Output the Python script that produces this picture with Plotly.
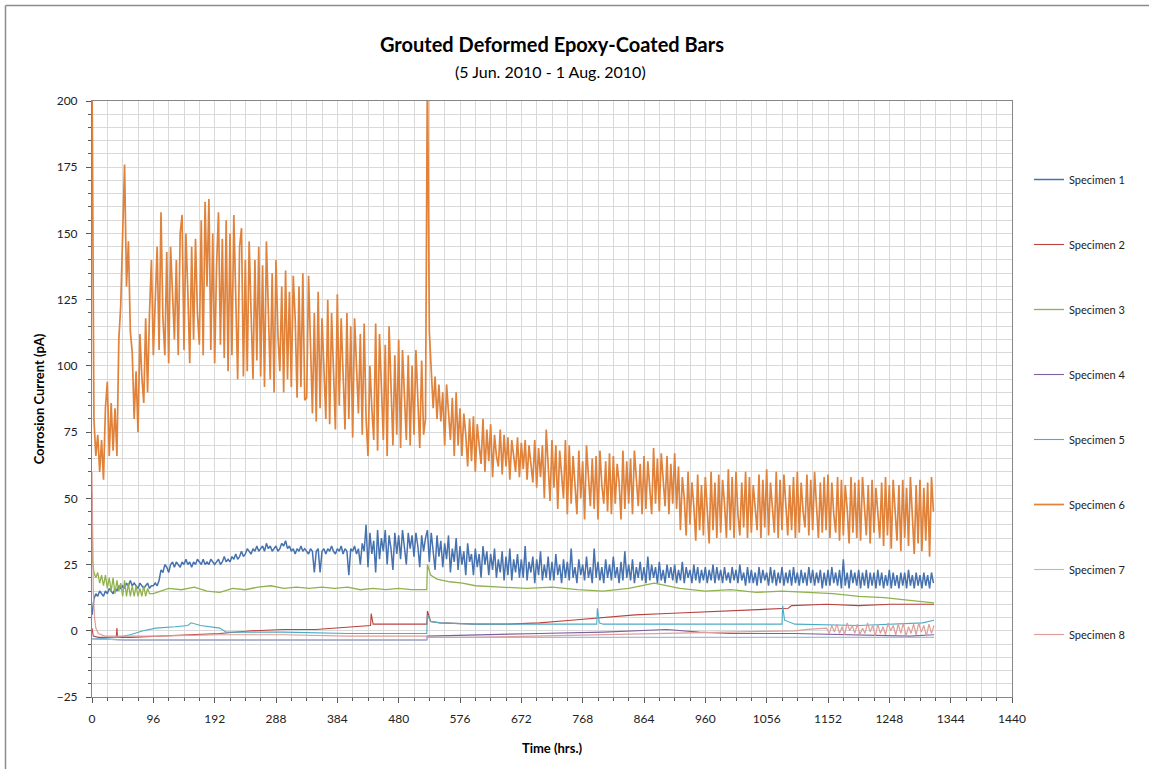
import plotly.graph_objects as go

# ---------------- data ----------------
NAMES = ["Specimen 1", "Specimen 2", "Specimen 3", "Specimen 4",
         "Specimen 5", "Specimen 6", "Specimen 7", "Specimen 8"]

# Specimen 6 (orange) - readings every 3 hours, 0 .. 1317 h (one row = 24 h)
S6_STEP = 3
S6 = [
    215, 80, 66, 74, 60, 72, 57, 84,
    94, 66, 86, 68, 84, 66, 110, 123,
    150, 176, 130, 147, 113, 105, 80, 98,
    75, 112, 96, 86, 118, 90, 120, 140,
    104, 125, 145, 106, 158, 118, 104, 143,
    101, 145, 126, 110, 140, 104, 150, 157,
    106, 150, 128, 101, 145, 110, 148, 120,
    108, 155, 104, 162, 130, 163, 106, 150,
    101, 138, 158, 108, 148, 103, 155, 98,
    150, 104, 157, 125, 95, 145, 152, 96,
    140, 98, 147, 120, 95, 140, 102, 145,
    96, 138, 92, 147, 118, 95, 135, 90,
    140, 112, 98, 130, 90, 136, 95, 128,
    92, 134, 118, 88, 130, 92, 135, 87,
    88, 134, 108, 82, 120, 79, 128, 84,
    118, 96, 80, 125, 78, 120, 100, 76,
    127, 85, 118, 98, 76, 120, 80, 115,
    73, 118, 96, 82, 112, 74, 116, 80,
    66, 100, 84, 72, 116, 68, 112, 90,
    72, 108, 66, 115, 88, 70, 104, 74,
    110, 69, 106, 90, 72, 104, 70, 100,
    74, 106, 88, 69, 102, 74, 80, 215,
    113, 99, 84, 96, 80, 93, 79, 90,
    70, 93, 82, 72, 88, 66, 90, 70,
    84, 66, 82, 74, 62, 80, 64, 81,
    60, 78, 70, 63, 80, 60, 76, 64,
    78, 58, 74, 66, 62, 76, 59, 74,
    62, 73, 57, 72, 66, 60, 73, 58,
    71, 61, 72, 57, 70, 64, 56, 72,
    54, 69, 58, 70, 50, 76, 62, 49,
    72, 54, 70, 46, 68, 60, 50, 72,
    44, 70, 48, 66, 56, 44, 68, 50,
    64, 42, 70, 58, 47, 65, 46, 66,
    42, 68, 55, 48, 64, 45, 67, 44,
    66, 48, 63, 56, 42, 68, 46, 64,
    48, 65, 44, 68, 57, 47, 63, 44,
    66, 46, 64, 54, 44, 69, 48, 65,
    45, 67, 56, 47, 66, 44, 63, 48,
    67, 46, 62, 38, 58, 50, 36, 60,
    40, 56, 47, 34, 59, 38, 55, 36,
    58, 45, 33, 60, 38, 56, 35, 59,
    37, 57, 48, 35, 61, 38, 58, 35,
    60, 44, 36, 56, 39, 60, 35, 58,
    37, 55, 47, 38, 59, 35, 57, 39,
    61, 36, 56, 46, 37, 60, 35, 57,
    38, 59, 49, 36, 55, 38, 58, 35,
    60, 37, 56, 45, 39, 59, 36, 57,
    38, 60, 47, 35, 56, 37, 58, 38,
    59, 35, 56, 44, 37, 58, 34, 57,
    36, 55, 46, 33, 58, 37, 56, 35,
    57, 34, 58, 45, 36, 55, 33, 57,
    37, 54, 43, 35, 56, 32, 58, 36,
    55, 31, 57, 44, 34, 55, 30, 57,
    35, 54, 32, 58, 42, 29, 55, 33,
    57, 30, 54, 34, 56, 28, 58, 45,
]

# Specimen 1 (blue) - readings every 3 hours, 0 .. 1317 h (one row = 24 h)
S1_STEP = 3
S1 = [
    6, 12, 14, 13, 15, 14, 13, 15,
    14, 16, 15, 14, 16, 15, 17, 16,
    17, 16, 18, 17, 19, 17, 18, 17,
    16, 18, 17, 16, 17, 18, 16, 17,
    17, 18, 17, 19, 23, 22, 25, 24,
    22, 25, 26, 24, 26, 25, 24, 26,
    25, 27, 25, 26, 24, 26, 25, 27,
    26, 25, 27, 25, 26, 25, 27, 26,
    25, 26, 27, 25, 26, 28, 26, 27,
    26, 28, 27, 29, 27, 28, 30, 28,
    29, 31, 30, 29, 31, 30, 32, 30,
    31, 32, 30, 33, 31, 32, 30, 31,
    32, 30, 31, 33, 32, 34, 31, 32,
    30, 31, 29, 31, 30, 32, 30, 31,
    30, 29, 31, 30, 22, 30, 31, 22,
    30, 31, 29, 31, 30, 32, 30, 29,
    31, 30, 32, 29, 31, 30, 21, 31,
    30, 32, 29, 31, 25, 33, 30, 40,
    24, 37, 29, 34, 22, 38, 27, 35,
    30, 38, 25, 36, 31, 23, 37, 29,
    36, 27, 38, 30, 25, 37, 31, 36,
    28, 37, 32, 24, 36, 30, 35, 38,
    26, 37, 31, 23, 36, 28, 34, 24,
    33, 27, 36, 22, 31, 26, 35, 23,
    32, 25, 30, 21, 33, 26, 29, 21,
    31, 24, 29, 20, 32, 25, 30, 21,
    29, 23, 31, 20, 27, 22, 30, 19,
    28, 21, 31, 19, 27, 22, 29, 20,
    27, 20, 32, 19, 26, 22, 28, 18,
    27, 21, 30, 19, 25, 20, 28, 19,
    26, 19, 29, 21, 25, 18, 27, 20,
    26, 19, 31, 20, 24, 18, 27, 21,
    25, 19, 28, 20, 24, 18, 31, 20,
    26, 19, 24, 18, 27, 20, 25, 19,
    28, 20, 24, 18, 26, 19, 30, 20,
    25, 19, 27, 18, 24, 20, 26, 19,
    24, 18, 28, 19, 25, 20, 24, 18,
    26, 19, 23, 18, 25, 20, 24, 19,
    25, 18, 23, 19, 26, 18, 24, 20,
    23, 18, 25, 19, 24, 18, 23, 19,
    24, 18, 23, 19, 25, 18, 24, 19,
    23, 18, 24, 19, 22, 18, 24, 19,
    23, 18, 25, 19, 22, 17, 24, 18,
    23, 18, 22, 17, 24, 18, 23, 19,
    22, 17, 24, 18, 23, 17, 22, 18,
    24, 17, 22, 18, 23, 17, 24, 18,
    22, 17, 23, 18, 22, 17, 24, 18,
    23, 17, 22, 18, 23, 16, 22, 17,
    23, 17, 24, 18, 22, 17, 23, 16,
    27, 17, 22, 16, 23, 18, 22, 17,
    23, 16, 22, 17, 23, 16, 22, 17,
    22, 16, 23, 17, 22, 16, 21, 17,
    23, 16, 22, 17, 21, 16, 22, 17,
    22, 16, 23, 17, 21, 16, 22, 17,
    21, 16, 22, 17, 21, 16, 22, 18,
]

# Specimen 3 (green) - readings at irregular times
T3 = [0, 1, 3, 6, 9, 12, 15, 18, 21, 24, 27, 30, 33, 36, 39, 42, 45, 48, 51, 54,
      57, 60, 63, 66, 69, 72, 75, 78, 81, 84, 87, 90, 96, 108, 120, 140, 160, 180,
      200, 220, 240, 260, 280, 300, 320, 340, 360, 380, 400, 420, 440, 460, 480,
      500, 524, 525, 530, 540, 560, 580, 600, 640, 680, 720, 760, 800, 840, 880,
      920, 960, 1000, 1040, 1080, 1120, 1160, 1200, 1240, 1280, 1318]
S3 = [52, 26, 22, 20, 22, 18, 21, 17, 21, 16, 20, 15, 20, 14, 19, 15, 18, 13, 19, 13,
      18, 13, 17, 13, 17, 13, 16, 13, 17, 13, 16, 14, 14, 15, 16, 15.5, 16.5, 15,
      14.5, 16, 15.5, 16.5, 17, 16, 16.5, 16, 16.5, 16, 16.5, 15.5, 16, 15.5, 16,
      15.5, 15.5, 25, 21, 19.5, 18.5, 18, 17, 16.5, 16, 16.5, 15.5, 15, 16, 18,
      16, 15, 15.5, 14.5, 15, 14.5, 14, 13, 12.5, 11.5, 10.5]

# Specimen 2 (red)
T2 = [0, 2, 10, 38, 39, 40, 60, 100, 150, 200, 250, 300, 350, 400, 436, 437, 440,
      480, 524, 525, 530, 545, 600, 650, 700, 750, 800, 850, 900, 950, 1000, 1050,
      1090, 1095, 1150, 1200, 1250, 1318]
S2 = [1, -2, -2.5, -2.5, 1, -2.5, -2.5, -2, -1.5, -1, 0, 0.5, 0.5, 1.5, 2, 6.5, 2.5,
      2.5, 2.5, 7.5, 3.5, 3, 2.5, 2.5, 3, 4, 5, 6, 6.5, 7, 7.5, 8, 8.5, 9.5, 10,
      9.5, 10, 10]

# Specimen 5 (teal)
T5 = [0, 10, 40, 60, 80, 100, 130, 150, 155, 170, 200, 210, 300, 400, 524, 525,
      530, 545, 600, 700, 790, 791, 794, 800, 900, 1000, 1080, 1081, 1084, 1100,
      1200, 1300, 1318]
S5 = [-3, -3, -2.5, -1.5, 0, 1, 1.5, 2, 3, 2, 1, -0.5, -0.5, -1, -1, 6, 3.5, 3,
      2.5, 2.5, 2.5, 8.5, 3, 2.5, 2.5, 2.5, 2.5, 9.5, 4, 2.5, 2, 3, 4]

# Specimen 4 (purple)
T4 = [0, 50, 200, 400, 524, 525, 600, 700, 800, 850, 900, 950, 1000, 1100, 1200,
      1280, 1318]
S4 = [-3, -3.5, -3.5, -3.5, -3.5, -2, -1.5, -1, -0.5, 0, 0.5, -0.5, -1, -1, -1.5,
      -2, -1.5]

# Specimen 7 (light blue)
T7 = [0, 50, 300, 524, 525, 700, 1000, 1318]
S7 = [-3, -3.5, -3.5, -3.5, -2.5, -2.5, -2.5, -2.5]

# Specimen 8 (pink): irregular readings, then every 4 h from 1150 h
T8_HEAD = [0, 1, 2, 4, 6, 10, 20, 100, 200, 300, 400, 524, 525, 600, 700, 800, 900,
           1000, 1100, 1120, 1140]
S8_HEAD = [60, 40, 15, 5, 1, -1, -2, -2, -1.5, -1.5, -2, -2, -2.5, -2.5, -2, -1.5, -1,
           -0.5, 0, 0.5, 1]
S8_TAIL_START, S8_TAIL_STEP = 1150, 4
S8_TAIL = [1, -1, 2, -0.5, 2.5, -1, 1.5, -1.5, 3, 0,
           2, -1, 2.5, -1.5, 1, -1, 3, -0.5, 2, -2,
           2.5, -1, 1.5, -1.5, 3, 0, 2, -1.5, 2.5, -1,
           3, -2, 1.5, -1, 2.5, -1.5, 3, -0.5, 2, -2,
           2.5, -1, 2]

X_TICKS = [0, 96, 192, 288, 384, 480, 576, 672, 768, 864, 960, 1056, 1152, 1248, 1344, 1440]
Y_TICKS = [-25, 0, 25, 50, 75, 100, 125, 150, 175, 200]

COLORS = ["#4672B0", "#B8433F", "#8FB24E", "#7D60A0",
          "#4BACC6", "#E0823A", "#A5BCDD", "#DE9E9B"]
WIDTHS = [1.5, 1.1, 1.3, 1.1, 1.1, 1.7, 1.1, 1.2]

# ---------------- figure ----------------
T6 = [i * S6_STEP for i in range(len(S6))]
T1 = [i * S1_STEP for i in range(len(S1))]
T8 = T8_HEAD + [S8_TAIL_START + i * S8_TAIL_STEP for i in range(len(S8_TAIL))]
S8 = S8_HEAD + S8_TAIL

series = [(T1, S1), (T2, S2), (T3, S3), (T4, S4),
          (T5, S5), (T6, S6), (T7, S7), (T8, S8)]

FONT = "Lato, 'Open Sans', 'DejaVu Sans', sans-serif"

fig = go.Figure()
for i, (t, y) in enumerate(series):
    fig.add_trace(go.Scatter(
        x=t, y=y, mode="lines", name=NAMES[i], legendgroup=NAMES[i],
        line=dict(color=COLORS[i], width=WIDTHS[i]),
    ))

W, H = 1149, 769
L, R, T, B = 92, 137, 101, 72
pw, ph = W - L - R, H - T - B

axis_common = dict(
    showline=True, linecolor="#868686", linewidth=1, mirror=True,
    gridcolor="#D9D9D9", gridwidth=1, zeroline=False,
    ticks="outside", ticklen=5, tickcolor="#595959", tickwidth=1,
    tickfont=dict(family=FONT, size=12, color="#222222"),
)

fig.update_layout(
    width=W, height=H,
    margin=dict(l=L, r=R, t=T, b=B),
    paper_bgcolor="white", plot_bgcolor="white",
    font=dict(family=FONT, color="#000000"),
    showlegend=True,
    legend=dict(
        x=(1029 - L) / pw, xanchor="left",
        y=1 - (165 - T) / ph, yanchor="top",
        font=dict(family=FONT, size=11, color="#222222"),
        tracegroupgap=46, bgcolor="rgba(0,0,0,0)",
        itemwidth=30,
    ),
    xaxis=dict(
        range=[0, 1440], tickvals=X_TICKS,
        minor=dict(dtick=24, tick0=0, showgrid=True, gridcolor="#D9D9D9",
                   ticks="outside", ticklen=3, tickcolor="#595959"),
        ticklabelstandoff=6,
        title=dict(text="<b>Time (hrs.)</b>", font=dict(family=FONT, size=13), standoff=18),
        **axis_common,
    ),
    yaxis=dict(
        range=[-25, 200], tickvals=Y_TICKS,
        minor=dict(dtick=5, tick0=0, showgrid=True, gridcolor="#D9D9D9",
                   ticks="outside", ticklen=3, tickcolor="#595959"),
        ticklabelstandoff=6,
        title=dict(text="<b>Corrosion Current (pA)</b>", font=dict(family=FONT, size=13), standoff=9),
        **axis_common,
    ),
    annotations=[
        dict(text="<b>Grouted Deformed Epoxy-Coated Bars</b>", xref="paper", yref="paper",
             x=(552 - L) / pw, y=1 + (T - 44) / ph, xanchor="center", yanchor="middle",
             showarrow=False, font=dict(family=FONT, size=20, color="#000000")),
        dict(text="(5 Jun. 2010 - 1 Aug. 2010)", xref="paper", yref="paper",
             x=(550 - L) / pw, y=1 + (T - 72) / ph, xanchor="center", yanchor="middle",
             showarrow=False, font=dict(family=FONT, size=16, color="#000000")),
    ],
    shapes=[
        dict(type="line", xref="paper", yref="paper",
             x0=(5.5 - L) / pw, x1=(W + 5 - L) / pw, y0=1 + (T - 5.5) / ph, y1=1 + (T - 5.5) / ph,
             line=dict(color="#8C8C8C", width=1.5)),
        dict(type="line", xref="paper", yref="paper",
             x0=(5.5 - L) / pw, x1=(5.5 - L) / pw, y0=-(B + 5) / ph, y1=1 + (T - 5.5) / ph,
             line=dict(color="#8C8C8C", width=1.5)),
    ],
)

fig.write_html("out.html",
               config={"displayModeBar": False},
               post_script="document.body.style.margin='0px';document.body.style.overflow='hidden';")
